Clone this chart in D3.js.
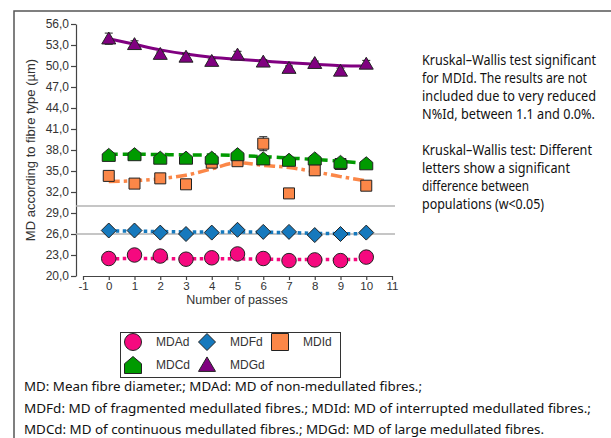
<!DOCTYPE html>
<html>
<head>
<meta charset="utf-8">
<script src="https://cdn.jsdelivr.net/npm/d3@7"></script>
<style>
  body { margin: 0; background: #fff; }
  svg { display: block; }
</style>
</head>
<body>
<div id="chart"></div>
<script>
// passes on the x axis
const passes = [0, 1, 2, 3, 4, 5, 6, 7, 8, 9, 10];
const yTicks = [20, 23, 26, 29, 32, 35, 38, 41, 44, 47, 50, 53, 56];
const xTicks = [-1, 0, 1, 2, 3, 4, 5, 6, 7, 8, 9, 10, 11];

// mean diameters (µm)
const mdad = [22.5, 23.0, 22.85, 22.4, 22.6, 23.15, 22.5, 22.2, 22.3, 22.2, 22.7];
const mdadErr = [0.1, 0.1, 0.1, 0.1, 0.1, 0.1, 0.1, 0.1, 0.1, 0.1, 0.1];
const mdadTrend = [22.45, 22.5, 22.5, 22.45, 22.45, 22.45, 22.4, 22.35, 22.35, 22.35, 22.4];

const mdfd = [26.5, 26.5, 26.2, 26.0, 26.2, 26.6, 26.3, 26.3, 25.85, 26.0, 26.2];
const mdfdErr = [0.1, 0.1, 0.1, 0.1, 0.1, 0.1, 0.1, 0.1, 0.1, 0.1, 0.1];
const mdfdTrend = [26.45, 26.4, 26.35, 26.3, 26.3, 26.3, 26.25, 26.2, 26.1, 26.05, 26.05];

const mdid = [34.3, 33.2, 33.95, 33.1, 36.2, 36.4, 38.9, 31.8, 35.1, 36.0, 32.9];
const mdidErr = [0.3, 0.3, 0.3, 0.6, 0.7, 0.6, 1.0, 0.2, 0.6, 0.5, 0.3];
const mdidTrend = [33.5, 33.6, 33.9, 34.4, 35.3, 36.2, 35.8, 35.5, 34.9, 34.2, 33.6];

const mdcd = [37.3, 37.4, 36.9, 36.9, 36.9, 37.4, 36.8, 36.6, 36.8, 36.3, 36.1];
const mdcdErr = [0.3, 0.2, 0.2, 0.2, 0.3, 0.3, 0.2, 0.2, 0.2, 0.3, 0.2];
const mdcdTrend = [37.4, 37.4, 37.35, 37.3, 37.3, 37.2, 37.05, 36.85, 36.65, 36.4, 36.1];

const mdgd = [53.9, 53.1, 51.7, 51.3, 50.7, 51.6, 50.6, 49.7, 50.4, 49.3, 50.3];
const mdgdErr = [0.8, 0.5, 0.3, 0.5, 0.3, 0.5, 0.3, 0.3, 0.3, 0.4, 0.5];
const mdgdTrend = [53.9, 53.1, 52.3, 51.7, 51.25, 50.95, 50.7, 50.45, 50.25, 50.05, 50.0];

// reference lines
const refLines = [30, 26];

const noteLines = [
  "Kruskal–Wallis test significant",
  "for MDId. The results are not",
  "included due to very reduced",
  "N%Id, between 1.1 and 0.0%.",
  "",
  "Kruskal–Wallis test: Different",
  "letters show a significant",
  "difference between",
  "populations (w<0.05)"
];
const noteWidths = [174, 165, 174, 173, 0, 170, 148, 107, 122];

const footLines = [
  "MD: Mean fibre diameter.; MDAd: MD of non-medullated fibres.;",
  "MDFd: MD of fragmented medullated fibres.; MDId: MD of interrupted medullated fibres.;",
  "MDCd: MD of continuous medullated fibres.; MDGd: MD of large medullated fibres."
];
const footWidths = [398, 567, 520];

// marker shapes, s = full width
function house(s) {
  const h = s / 2;
  return `M${-h},${h}L${h},${h}L${h},${-h * 0.15}L0,${-h}L${-h},${-h * 0.15}Z`;
}
function triangle(s) {
  const h = s / 2;
  return `M0,${-h * 0.95}L${h},${h * 0.75}L${-h},${h * 0.75}Z`;
}
function diamond(s) {
  const h = s / 2;
  return `M0,${-h}L${h},0L0,${h}L${-h},0Z`;
}
function square(s) {
  const h = s / 2;
  return `M${-h},${-h}H${h}V${h}H${-h}Z`;
}
function circle(s) {
  const r = s / 2;
  return `M${r},0A${r},${r} 0 1,1 ${-r},0A${r},${r} 0 1,1 ${r},0Z`;
}

const series = [
  { name: "MDAd", values: mdad, err: mdadErr, trend: mdadTrend, color: "#f5097f", shape: circle, size: 14.5, dash: "3.5,3.5", width: 3.5 },
  { name: "MDFd", values: mdfd, err: mdfdErr, trend: mdfdTrend, color: "#1679bd", shape: diamond, size: 15, dash: "3.5,3.5", width: 3.5 },
  { name: "MDId", values: mdid, err: mdidErr, trend: mdidTrend, color: "#fb8748", shape: square, size: 11, dash: "11,4,3.5,4", width: 3.5 },
  { name: "MDCd", values: mdcd, err: mdcdErr, trend: mdcdTrend, color: "#009a00", shape: house, size: 13, dash: "9,5", width: 3.5 },
  { name: "MDGd", values: mdgd, err: mdgdErr, trend: mdgdTrend, color: "#800080", shape: triangle, size: 14, dash: null, width: 3 }
];

const width = 611;
const height = 438;

const svg = d3.select("#chart")
  .append("svg")
  .attr("width", width)
  .attr("height", height)
  .style("font-family", "'Liberation Sans', Arial, sans-serif");

const x = d3.scaleLinear().domain([-1, 11]).range([83, 392]);
const y = d3.scaleLinear().domain([20, 56]).range([276, 24]);

// outer frame (left and top only)
svg.append("path")
  .attr("d", "M14,438V11H611")
  .attr("fill", "none")
  .attr("stroke", "#555")
  .attr("stroke-width", 1.5);

// y axis
const yAxis = svg.append("g")
  .attr("transform", "translate(76,0)")
  .call(d3.axisLeft(y).tickValues(yTicks).tickSize(5).tickSizeOuter(0)
    .tickFormat(d => d.toFixed(1).replace(".", ",")));

// x axis
const xAxis = svg.append("g")
  .attr("transform", "translate(0,276)")
  .call(d3.axisBottom(x).tickValues(xTicks).tickSize(4).tickPadding(2).tickSizeOuter(0)
    .tickFormat(d => String(d)));

[yAxis, xAxis].forEach(g => {
  g.select(".domain").attr("stroke", "#444").attr("stroke-width", 1.2);
  g.selectAll(".tick line").attr("stroke", "#444").attr("stroke-width", 1.2);
  g.selectAll(".tick text").attr("fill", "#333").style("font-size", "12px");
});
yAxis.selectAll(".tick text").attr("x", -7);
xAxis.selectAll(".tick text").style("font-size", "11.5px");

svg.append("text")
  .attr("x", 237)
  .attr("y", 304)
  .attr("text-anchor", "middle")
  .attr("fill", "#333")
  .style("font-size", "12.5px")
  .text("Number of passes");

svg.append("text")
  .attr("transform", "translate(35,150) rotate(-90)")
  .attr("text-anchor", "middle")
  .attr("fill", "#333")
  .style("font-size", "13px")
  .text("MD according to fibre type (µm)");

// grey reference lines
svg.selectAll(".ref")
  .data(refLines)
  .enter()
  .append("line")
  .attr("x1", 76)
  .attr("x2", 395)
  .attr("y1", d => y(d))
  .attr("y2", d => y(d))
  .attr("stroke", "#b3b3b3")
  .attr("stroke-width", 1.5);

const line = d3.line()
  .x((d, i) => x(passes[i]))
  .y(d => y(d))
  .curve(d3.curveMonotoneX);

series.forEach(s => {
  const g = svg.append("g");

  g.append("path")
    .datum(s.trend)
    .attr("d", line)
    .attr("fill", "none")
    .attr("stroke", s.color)
    .attr("stroke-width", s.width)
    .attr("stroke-dasharray", s.dash);

  // error bars
  const bars = g.selectAll(".err")
    .data(s.values)
    .enter()
    .append("g")
    .attr("stroke", "#222")
    .attr("stroke-width", 1);
  bars.append("line")
    .attr("x1", (d, i) => x(passes[i]))
    .attr("x2", (d, i) => x(passes[i]))
    .attr("y1", (d, i) => y(d - s.err[i]))
    .attr("y2", (d, i) => y(d + s.err[i]));
  [-1, 1].forEach(sign => {
    bars.append("line")
      .attr("x1", (d, i) => x(passes[i]) - 4)
      .attr("x2", (d, i) => x(passes[i]) + 4)
      .attr("y1", (d, i) => y(d + sign * s.err[i]))
      .attr("y2", (d, i) => y(d + sign * s.err[i]));
  });

  g.selectAll(".mark")
    .data(s.values)
    .enter()
    .append("path")
    .attr("transform", (d, i) => "translate(" + x(passes[i]) + "," + y(d) + ")")
    .attr("d", s.shape(s.size))
    .attr("fill", s.color)
    .attr("stroke", "#222")
    .attr("stroke-width", 1);
});

// legend
const legend = svg.append("g");
legend.append("rect")
  .attr("x", 120.5)
  .attr("y", 332.5)
  .attr("width", 220)
  .attr("height", 45)
  .attr("fill", "#fff")
  .attr("stroke", "#333")
  .attr("stroke-width", 1);

const legendPos = [[133, 342], [207, 342], [280, 342], [133, 365], [207, 365]];
series.forEach((s, i) => {
  const p = legendPos[i];
  legend.append("path")
    .attr("transform", "translate(" + p[0] + "," + p[1] + ")")
    .attr("d", s.shape(17))
    .attr("fill", s.color)
    .attr("stroke", "#222")
    .attr("stroke-width", 1);
  legend.append("text")
    .attr("x", p[0] + 23)
    .attr("y", p[1] + 4)
    .attr("fill", "#333")
    .style("font-size", "12px")
    .text(s.name);
});

// note on the right
noteLines.forEach((d, i) => {
  if (d === "") return;
  svg.append("text")
    .attr("x", 422)
    .attr("y", 65 + i * 18)
    .attr("textLength", noteWidths[i])
    .attr("lengthAdjust", "spacingAndGlyphs")
    .attr("fill", "#111")
    .style("font-family", "'Noto Sans', sans-serif")
    .style("font-size", "13.5px")
    .text(d);
});

// footnotes
svg.append("g")
  .selectAll("text")
  .data(footLines)
  .enter()
  .append("text")
  .attr("x", 24)
  .attr("y", (d, i) => 391 + i * 21.5)
  .attr("textLength", (d, i) => footWidths[i])
  .attr("lengthAdjust", "spacingAndGlyphs")
  .attr("fill", "#111")
  .style("font-family", "'Noto Sans', sans-serif")
  .style("font-size", "13px")
  .text(d => d);
</script>
</body>
</html>
